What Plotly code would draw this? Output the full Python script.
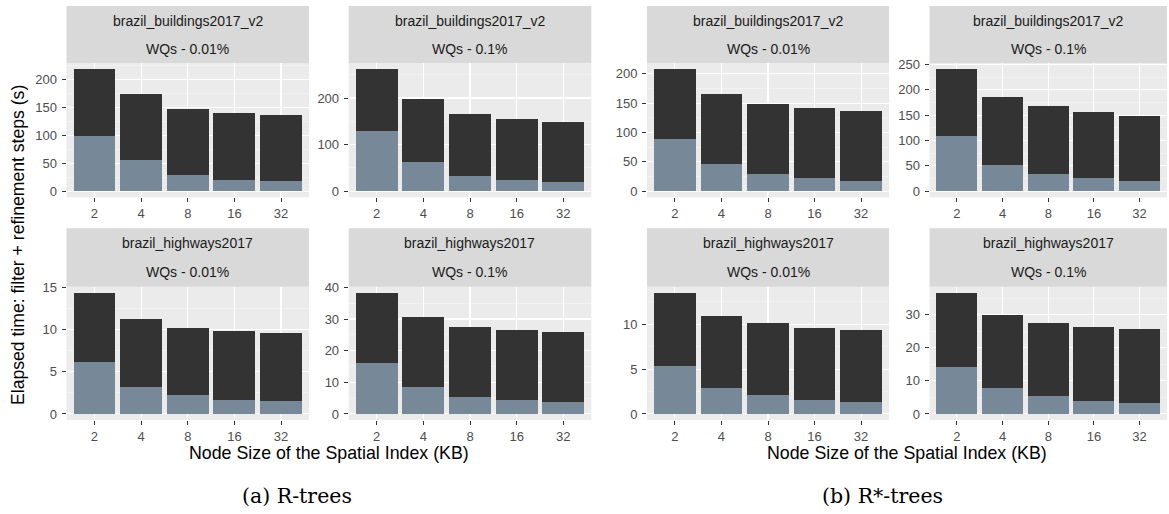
import plotly.graph_objects as go

# ---------------- data ----------------
node_sizes = ["2", "4", "8", "16", "32"]

datasets = ["brazil_buildings2017_v2", "brazil_buildings2017_v2",
            "brazil_highways2017", "brazil_highways2017"]
wq_labels = ["WQs - 0.01%", "WQs - 0.1%", "WQs - 0.01%", "WQs - 0.1%"]

# R-trees: filter step / refinement step (s)
rtree_bld_001_filter = [99.7, 55.5, 29.9, 20.9, 18.5]
rtree_bld_001_refine = [118.8, 118.8, 118.1, 118.8, 118.8]
rtree_bld_01_filter = [130.0, 63.6, 32.9, 24.3, 20.7]
rtree_bld_01_refine = [131.4, 133.4, 132.8, 131.4, 127.9]
rtree_hw_001_filter = [6.14, 3.19, 2.2, 1.69, 1.5]
rtree_hw_001_refine = [8.23, 8.11, 8.04, 8.11, 8.1]
rtree_hw_01_filter = [16.1, 8.5, 5.4, 4.3, 3.7]
rtree_hw_01_refine = [22.2, 22.1, 22.1, 22.1, 22.1]

# R*-trees
rstar_bld_001_filter = [88.4, 47.0, 30.0, 22.7, 17.6]
rstar_bld_001_refine = [119.0, 118.4, 119.0, 119.5, 118.4]
rstar_bld_01_filter = [109.6, 51.8, 34.8, 26.2, 19.7]
rstar_bld_01_refine = [130.4, 133.2, 133.2, 130.6, 127.9]
rstar_hw_001_filter = [5.37, 2.85, 2.07, 1.56, 1.33]
rstar_hw_001_refine = [8.13, 8.05, 8.03, 8.07, 8.07]
rstar_hw_01_filter = [14.3, 7.7, 5.3, 4.0, 3.2]
rstar_hw_01_refine = [22.3, 22.3, 22.3, 22.2, 22.5]

y_dticks = [50, 100, 5, 10, 50, 50, 5, 10]

filters = [rtree_bld_001_filter, rtree_bld_01_filter, rtree_hw_001_filter, rtree_hw_01_filter,
           rstar_bld_001_filter, rstar_bld_01_filter, rstar_hw_001_filter, rstar_hw_01_filter]
refines = [rtree_bld_001_refine, rtree_bld_01_refine, rtree_hw_001_refine, rtree_hw_01_refine,
           rstar_bld_001_refine, rstar_bld_01_refine, rstar_hw_001_refine, rstar_hw_01_refine]

# ---------------- layout geometry (px) ----------------
W, H = 1169, 514
cols = [(66.5, 309.0), (348.7, 591.3), (647.0, 889.0), (929.5, 1167.0)]
rows = [(63.3, 197.3), (286.7, 420.0)]
strips = [(6.0, 63.3), (228.3, 286.7)]

def px(x):
    return x / W

def py(y):
    return 1 - y / H

FILTER_C = "#778899"
REFINE_C = "#333333"
FONT = "Liberation Sans, Arial, Helvetica, sans-serif"
SERIF = "DejaVu Serif, Liberation Serif, serif"

fig = go.Figure()
shapes = []
annotations = []

# facet order: (panel, row, col)
facet_pos = []
for panel in range(2):
    for r in range(2):
        for c in range(2):
            facet_pos.append((panel * 2 + c, r))

for i in range(8):
    ci, ri = facet_pos[i]
    x0, x1 = cols[ci]
    y0, y1 = rows[ri]
    sfx = "" if i == 0 else str(i + 1)
    xa = "x" + sfx
    ya = "y" + sfx
    fig.add_trace(go.Bar(x=node_sizes, y=filters[i], marker=dict(color=FILTER_C, line=dict(width=0)),
                         xaxis=xa, yaxis=ya, showlegend=False, name="filter"))
    fig.add_trace(go.Bar(x=node_sizes, y=refines[i], marker=dict(color=REFINE_C, line=dict(width=0)),
                         xaxis=xa, yaxis=ya, showlegend=False, name="refinement"))
    top = max(f + r for f, r in zip(filters[i], refines[i]))
    d = y_dticks[i]
    fig.layout["xaxis" + sfx] = dict(
        domain=[px(x0), px(x1)], anchor=ya, type="category",
        categoryorder="array", categoryarray=node_sizes, automargin=False,
        range=[-0.6, 4.6], showgrid=True, gridcolor="white", gridwidth=1.1,
        ticks="outside", ticklen=4, tickcolor="#333333", tickwidth=1,
        tickfont=dict(family=FONT, size=13, color="#4D4D4D"),
        showline=False, zeroline=False, fixedrange=True,
    )
    fig.layout["yaxis" + sfx] = dict(
        domain=[py(y1), py(y0)], anchor=xa, automargin=False,
        range=[-0.05 * top, 1.05 * top], tick0=0, dtick=d,
        showgrid=True, gridcolor="white", gridwidth=1.1,
        minor=dict(dtick=d / 2, tick0=d / 2, showgrid=True, gridcolor="#F7F7F7", gridwidth=0.55, ticks=""),
        ticks="outside", ticklen=4, tickcolor="#333333", tickwidth=1,
        ticklabelstandoff=2,
        tickfont=dict(family=FONT, size=13, color="#4D4D4D"),
        showline=False, zeroline=False, fixedrange=True,
    )
    # panel background
    shapes.append(dict(type="rect", xref="paper", yref="paper", layer="below",
                       x0=px(x0), x1=px(x1), y0=py(y1), y1=py(y0),
                       fillcolor="#EBEBEB", line=dict(width=0)))
    # strip
    s0, s1 = strips[ri]
    shapes.append(dict(type="rect", xref="paper", yref="paper", layer="below",
                       x0=px(x0), x1=px(x1), y0=py(s1), y1=py(s0),
                       fillcolor="#D9D9D9", line=dict(width=0)))
    k = (i % 4)
    hh = (s1 - s0) / 2
    annotations.append(dict(x=px((x0 + x1) / 2), y=py(s0 + hh / 2 + 0.5), xref="paper", yref="paper",
                            text=datasets[k], showarrow=False, xanchor="center", yanchor="middle",
                            font=dict(family=FONT, size=14, color="#1A1A1A")))
    annotations.append(dict(x=px((x0 + x1) / 2), y=py(s0 + 1.5 * hh), xref="paper", yref="paper",
                            text=wq_labels[k], showarrow=False, xanchor="center", yanchor="middle",
                            font=dict(family=FONT, size=14, color="#1A1A1A")))

# axis titles and captions
x_title = "Node Size of the Spatial Index (KB)"
annotations.append(dict(x=px((cols[0][0] + cols[1][1]) / 2), y=py(453), xref="paper", yref="paper",
                        text=x_title, showarrow=False, xanchor="center", yanchor="middle",
                        font=dict(family=FONT, size=17.8, color="black")))
annotations.append(dict(x=px((cols[2][0] + cols[3][1]) / 2), y=py(453), xref="paper", yref="paper",
                        text=x_title, showarrow=False, xanchor="center", yanchor="middle",
                        font=dict(family=FONT, size=17.8, color="black")))
annotations.append(dict(x=px(18), y=py(245), xref="paper", yref="paper", textangle=-90,
                        text="Elapsed time: filter + refinement steps (s)", showarrow=False,
                        xanchor="center", yanchor="middle",
                        font=dict(family=FONT, size=17.6, color="black")))
annotations.append(dict(x=px(297), y=py(496), xref="paper", yref="paper",
                        text="(a) R-trees", showarrow=False, xanchor="center", yanchor="middle",
                        font=dict(family=SERIF, size=20.5, color="black")))
annotations.append(dict(x=px(882), y=py(496), xref="paper", yref="paper",
                        text="(b) R*-trees", showarrow=False, xanchor="center", yanchor="middle",
                        font=dict(family=SERIF, size=20.5, color="black")))

fig.update_layout(
    width=W, height=H, margin=dict(l=0, r=0, t=0, b=0, autoexpand=False),
    paper_bgcolor="white", plot_bgcolor="rgba(0,0,0,0)",
    barmode="stack", bargap=0.1, showlegend=False, hovermode=False,
    shapes=shapes, annotations=annotations,
)

fig.write_html("out.html",
               config={"displayModeBar": False, "staticPlot": True},
               post_script="document.body.style.margin='0';document.body.style.overflow='hidden';")
